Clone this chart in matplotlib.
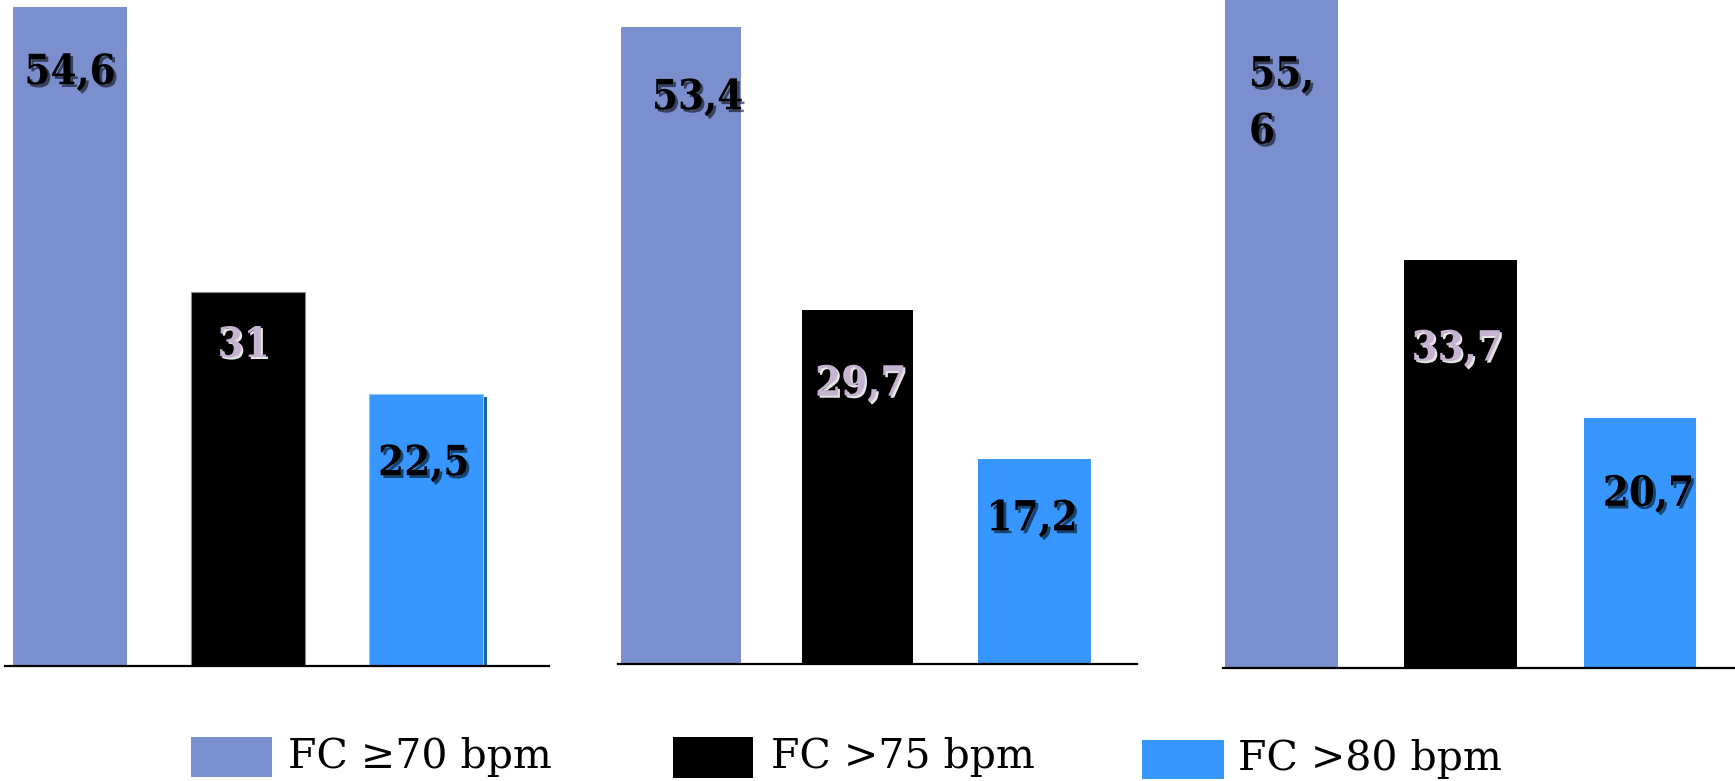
import matplotlib
matplotlib.use("Agg")
import matplotlib.pyplot as plt
import matplotlib.patheffects as pe
from matplotlib.patches import Rectangle

# ---- data -------------------------------------------------------------
series_names = ["FC \u226570 bpm", "FC >75 bpm", "FC >80 bpm"]
series_colors = ["#7B8FCE", "#000000", "#3797FE"]
group_a = [54.6, 31.0, 22.5]
group_b = [53.4, 29.7, 17.2]
group_c = [55.6, 33.7, 20.7]
groups = [group_a, group_b, group_c]

# ---- figure -----------------------------------------------------------
W, H = 1735, 781
fig = plt.figure(figsize=(W / 100, H / 100), dpi=100)
fig.patch.set_facecolor("white")

# panel layout in pixels: left, right, baseline, px per unit
panel_px = [(5, 549, 666, 12.07), (618, 1137, 664, 11.93), (1223, 1735, 668, 12.10)]
panel_xlim = [(-0.365, 2.69), (-0.356, 2.58), (-0.327, 2.53)]
panel_width = [[0.64, 0.64, 0.64], [0.68, 0.63, 0.64], [0.63, 0.63, 0.63]]
# label placement: (x shift, depth below bar top) in data units
label_shift = [
    [(0.0, 5.4), (-0.025, 4.4), (-0.014, 5.7)],
    [(0.094, 5.9), (0.017, 6.2), (-0.014, 5.0)],
    [(0.0, 8.9), (-0.02, 7.3), (0.047, 6.3)],
]

def fmt(v):
    s = ("%.1f" % v).rstrip("0").rstrip(".")
    return s.replace(".", ",")

label_font = dict(family="DejaVu Serif", fontweight="bold", fontstretch="condensed",
                  fontsize=30)
dark_fx = [pe.SimplePatchShadow(offset=(2, -2), shadow_rgbFace="black", alpha=0.55),
           pe.Normal()]
light_fx = [pe.SimplePatchShadow(offset=(1.5, -1.5), shadow_rgbFace="white", alpha=0.9),
            pe.Normal()]

for gi, vals in enumerate(groups):
    l, r, base, scale = panel_px[gi]
    ax = fig.add_axes([l / W, (H - base) / H, (r - l) / W, base / H])
    ax.set_xlim(*panel_xlim[gi])
    ax.set_ylim(0, base / scale)
    for s in ("top", "left", "right"):
        ax.spines[s].set_visible(False)
    ax.spines["bottom"].set_linewidth(1.6)
    ax.spines["bottom"].set_color("black")
    ax.set_xticks([])
    ax.set_yticks([])
    ax.patch.set_alpha(0)

    xs = list(range(len(vals)))
    bars = ax.bar(xs, vals, width=panel_width[gi], color=series_colors, zorder=2)
    if gi == 0:
        bars[1].set_edgecolor("#8a8a8a")
        bars[1].set_linewidth(0.8)
        bars[2].set_path_effects([pe.SimplePatchShadow(offset=(3, -2),
                                                       shadow_rgbFace="#1F5FA8", alpha=1),
                                  pe.Normal()])
        bars[2].set_edgecolor("#8CC4FF")
        bars[2].set_linewidth(0.8)

    for i, v in enumerate(vals):
        dx, dy = label_shift[gi][i]
        txt = fmt(v)
        if gi == 2 and i == 0:
            txt = txt.replace(",", ",\n")
        color = "#C6B3D1" if i == 1 else "black"
        fx = light_fx if i == 1 else dark_fx
        ax.text(i + dx, v - dy, txt, ha="center", va="center", color=color,
                multialignment="left", linespacing=1.45, zorder=3,
                path_effects=fx, **label_font)

# ---- legend -------------------------------------------------------------
legend_px = [(191, 737, 81, 40, 288, 768), (673, 737, 80, 41, 771, 768),
             (1142, 740, 82, 39, 1238, 770)]
for (x, y, w, h, tx, ty), name, col in zip(legend_px, series_names, series_colors):
    fig.patches.append(Rectangle((x / W, 1 - (y + h) / H), w / W, h / H,
                                 transform=fig.transFigure, facecolor=col,
                                 edgecolor="none"))
    fig.text(tx / W, 1 - ty / H, name, ha="left", va="baseline",
             family="DejaVu Serif", fontsize=29.5, color="black")

fig.savefig("out.png", dpi=100, facecolor="white")
